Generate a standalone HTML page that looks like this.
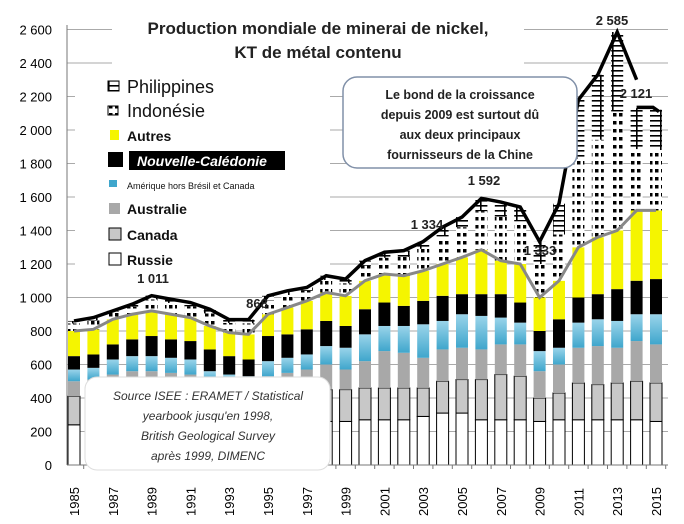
<!DOCTYPE html>
<html><head><meta charset="utf-8"><style>
body{margin:0;background:#fff;}
svg{display:block;font-family:"Liberation Sans",sans-serif;}
</style></head><body>
<svg id="c" width="684" height="524" xmlns="http://www.w3.org/2000/svg">
<defs>
<pattern id="ind" width="6" height="8" patternUnits="userSpaceOnUse"><rect width="6" height="8" fill="#fff"/><rect x="1" y="1" width="3.5" height="3.5" fill="#000"/></pattern>
<pattern id="phi" width="12" height="5" patternUnits="userSpaceOnUse"><rect width="12" height="5" fill="#fff"/><rect x="0" y="0" width="12" height="1.6" fill="#000"/><rect x="0" y="0" width="1.6" height="5" fill="#000"/></pattern>
<linearGradient id="am" x1="0" y1="0" x2="0" y2="1"><stop offset="0" stop-color="#9ad4ea"/><stop offset="1" stop-color="#3fa6cc"/></linearGradient>
</defs>
<g id="g"></g>
</svg>
<script>
const Y=v=>465-v*0.1675, X=i=>74+i*19.4;
const tot=[860,880,920,960,1011,990,970,930,868,868,1010,1040,1060,1130,1110,1220,1270,1280,1334,1420,1480,1592,1570,1540,1333,1560,2180,2330,2585,2130,2121];
const aut=[800,810,870,900,920,900,880,830,790,780,900,940,980,1030,1010,1100,1140,1130,1160,1200,1240,1285,1220,1200,1000,1100,1300,1360,1400,1520,1520];
const nc=[650,660,720,750,770,750,740,690,650,630,770,780,810,860,830,930,970,950,980,1010,1020,1020,1020,970,800,870,1000,1020,1050,1100,1110];
const am=[570,580,630,650,650,640,630,560,540,530,620,640,660,710,700,780,830,830,840,860,900,890,880,850,680,700,850,870,860,900,900];
const au=[500,510,540,560,560,550,540,500,480,470,530,550,570,600,570,620,680,670,640,690,700,690,720,720,560,600,700,710,700,740,720];
const ca=[410,420,440,450,450,440,440,420,400,400,430,440,440,450,450,460,460,460,460,500,510,510,540,530,400,430,490,480,490,500,490];
const ru=[240,250,260,270,270,260,260,250,240,240,250,260,260,260,260,270,270,270,290,310,310,270,270,270,260,270,270,270,270,270,260];
let s='';
for(let v=0;v<=2600;v+=200){const y=Y(v);s+=`<line x1="67" x2="668" y1="${y}" y2="${y}" stroke="#aaa" stroke-width="1"/>`;
s+=`<text x="52" y="${y+5}" font-size="13" text-anchor="end">${v>=1000?String(Math.floor(v/1000))+' '+String(v%1000).padStart(3,'0'):v}</text>`;}
s+=`<line x1="67" x2="67" y1="25" y2="465" stroke="#777"/>`;
const segs=[[0,ru,'#fff'],[ru,ca,'#c8c8c8'],[ca,au,'#a8a8a8'],[au,am,'url(#am)'],[am,nc,'#000'],[nc,aut,'#f5f500']];
for(let i=0;i<31;i++){const x=X(i)-6,w=12;
 for(const [b,t,f] of segs){const bb=b===0?0:b[i];const st=(f=='#fff'||f=='#c8c8c8')?'stroke="#000" stroke-width="1"':'';
  s+=`<rect x="${x}" y="${Y(t[i])}" width="${w}" height="${Y(bb)-Y(t[i])}" fill="${f}" ${st}/>`;}
 const rest=tot[i]-aut[i]; if(rest>0){const indTop=aut[i]+rest*(i>=24?0.6:0.75);
  s+=`<rect x="${x}" y="${Y(indTop)}" width="${w}" height="${Y(aut[i])-Y(indTop)}" fill="url(#ind)"/>`;
  s+=`<rect x="${x}" y="${Y(tot[i])}" width="${w}" height="${Y(indTop)-Y(tot[i])}" fill="url(#phi)"/>`;}
 if(i%2==0) s+=`<text transform="translate(${X(i)+5},516) rotate(-90)" font-size="13">${1985+i}</text>`;
 s+=`<line x1="${X(i)+9.7}" x2="${X(i)+9.7}" y1="465" y2="469" stroke="#777"/>`;
}
s+=`<line x1="67" x2="668" y1="465" y2="465" stroke="#777"/>`;
let p=aut.map((v,i)=>X(i)+','+Y(v)).join(' ');
s+=`<polyline points="${p}" fill="none" stroke="#888" stroke-width="3"/>`;
p=tot.slice(0,30).map((v,i)=>X(i)+','+Y(i==29?2300:v)).join(' ');
s+=`<polyline points="${p}" fill="none" stroke="#000" stroke-width="3.5"/>`;
s+=`<polyline points="${X(29)},${Y(2135)} ${X(30)-3},${Y(2135)} ${X(30)+3},${Y(2110)}" fill="none" stroke="#000" stroke-width="3.5"/>`;
s+=`<rect x="112" y="18" width="412" height="50" fill="#fff"/>`;
s+=`<text x="318" y="34" font-size="17" font-weight="bold" text-anchor="middle" fill="#222">Production mondiale de minerai de nickel,</text>`;
s+=`<text x="318" y="58" font-size="17" font-weight="bold" text-anchor="middle" fill="#222">KT de métal contenu</text>`;
s+=`<rect x="75" y="70" width="255" height="200" fill="#fff"/>`;
const L=(y,sw,t,fs,fw)=>{s+=sw;s+=`<text x="127" y="${y}" font-size="${fs}" font-weight="${fw||'normal'}" fill="#111">${t}</text>`;};
L(93,`<rect x="108" y="81" width="11" height="10" fill="url(#phi)" stroke="#000"/>`,'Philippines',18,'normal');
L(117,`<rect x="108" y="106" width="10" height="9" fill="url(#ind)" stroke="#000"/>`,'Indonésie',18,'normal');
L(141,`<rect x="110" y="130" width="9" height="10" fill="#f5f500"/>`,'Autres',14,'bold');
s+=`<rect x="108" y="152" width="15" height="15" fill="#000"/><rect x="129" y="151" width="156" height="19" fill="#000"/><text x="137" y="166" font-size="14" font-style="italic" font-weight="bold" fill="#fff">Nouvelle-Calédonie</text>`;
L(189,`<rect x="109" y="180" width="8" height="7" fill="#3fa6cc"/>`,'Amérique hors Brésil et Canada',9,'normal');
L(214,`<rect x="109" y="203" width="11" height="11" fill="#a8a8a8"/>`,'Australie',14,'bold');
L(240,`<rect x="109" y="228" width="12" height="12" fill="#c8c8c8" stroke="#000"/>`,'Canada',14,'bold');
L(265,`<rect x="109" y="253" width="12" height="12" fill="#fff" stroke="#000"/>`,'Russie',14,'bold');
const lab=(x,y,t)=>s+=`<text x="${x}" y="${y}" font-size="13" font-weight="bold" text-anchor="middle" fill="#222">${t}</text>`;
lab(153,283,'1 011');lab(257,308,'868');lab(427,229,'1 334');lab(484,185,'1 592');lab(540,255,'1 333');lab(612,25,'2 585');lab(636,98,'2 121');
s+=`<rect x="343" y="77" width="234" height="91" rx="14" fill="#fff" stroke="#8090a8" stroke-width="1.5"/>`;
['Le bond de la croissance','depuis 2009 est surtout dû','aux deux principaux','fournisseurs de la Chine'].forEach((t,k)=>s+=`<text x="460" y="${99+k*20}" font-size="12.5" font-weight="bold" text-anchor="middle" fill="#222">${t}</text>`);
s+=`<rect x="85" y="377" width="245" height="93" rx="12" fill="#fff" stroke="#ddd"/>`;
['Source ISEE : ERAMET / Statistical','yearbook jusqu\'en 1998,','British Geological Survey','après 1999, DIMENC'].forEach((t,k)=>s+=`<text x="208" y="${400+k*20}" font-size="12" font-style="italic" text-anchor="middle" fill="#333">${t}</text>`);
document.getElementById('g').innerHTML=s;
</script>
</body></html>
